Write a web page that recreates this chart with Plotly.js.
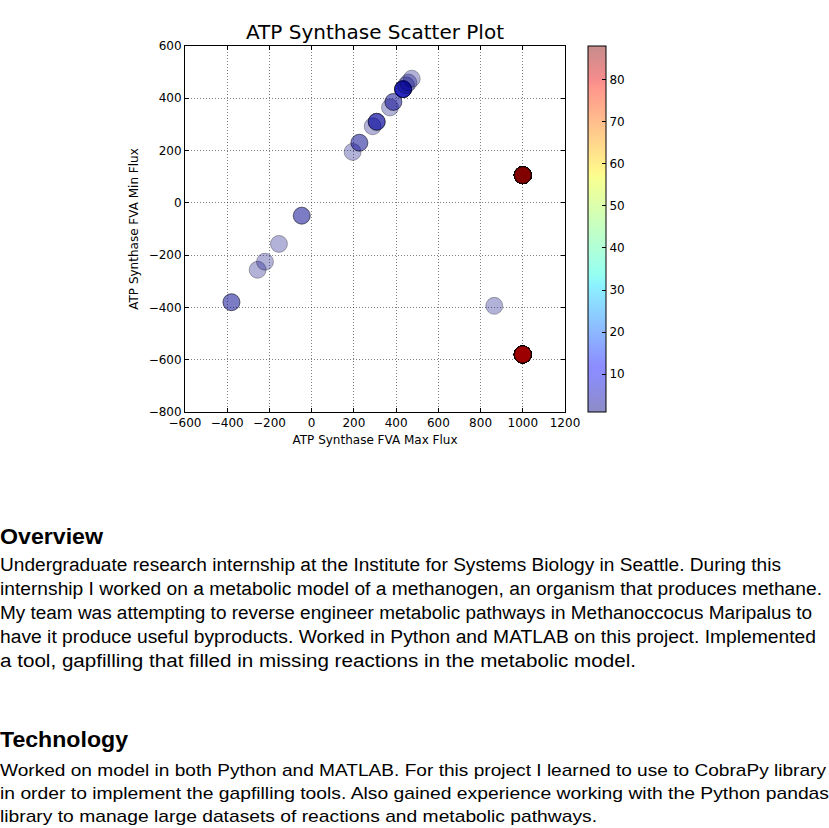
<!DOCTYPE html>
<html>
<head>
<meta charset="utf-8">
<script src="https://cdn.plot.ly/plotly-3.0.1.min.js"></script>
<style>
  html, body { margin: 0; padding: 0; background: #fff; width: 829px; height: 828px; overflow: hidden; }
  #chart { position: absolute; left: 0; top: 0; width: 829px; height: 460px; }
  .sec { position: absolute; left: 0; font-family: "Liberation Sans", Arial, sans-serif; color: #000; }
  .h { font-weight: bold; font-size: 22px; line-height: 28px; height: 28px; white-space: nowrap; }
  .l { font-size: 18px; line-height: 24px; height: 24px; white-space: nowrap; }
  #te-b .l { font-size: 17px; line-height: 23px; height: 23px; }
  .h span, .l span { display: inline-block; transform-origin: 0 0; }
</style>
</head>
<body>
<div id="chart"></div>

<div class="sec" id="ov-h" style="top:523px"><div class="h"><span data-w="103">Overview</span></div></div>
<div class="sec" id="ov-b" style="top:553px">
  <div class="l"><span data-w="781">Undergraduate research internship at the Institute for Systems Biology in Seattle. During this</span></div>
  <div class="l"><span data-w="822">internship I worked on a metabolic model of a methanogen, an organism that produces methane.</span></div>
  <div class="l"><span data-w="812">My team was attempting to reverse engineer metabolic pathways in Methanoccocus Maripalus to</span></div>
  <div class="l"><span data-w="816">have it produce useful byproducts. Worked in Python and MATLAB on this project. Implemented</span></div>
  <div class="l"><span data-w="636">a tool, gapfilling that filled in missing reactions in the metabolic model.</span></div>
</div>

<div class="sec" id="te-h" style="top:726px"><div class="h"><span data-w="128">Technology</span></div></div>
<div class="sec" id="te-b" style="top:759px">
  <div class="l"><span data-w="826">Worked on model in both Python and MATLAB. For this project I learned to use to CobraPy library</span></div>
  <div class="l"><span data-w="829">in order to implement the gapfilling tools. Also gained experience working with the Python pandas</span></div>
  <div class="l"><span data-w="597">library to manage large datasets of reactions and metabolic pathways.</span></div>
</div>

<script>
// ---- data ----
const maxFlux = [-380, -256, -221, -155, -47, 194, 226, 289, 308, 371, 387, 433, 447, 458, 474, 865, 1000, 1000];
const minFlux = [-380, -256, -225, -157, -49, 195, 230, 293, 310, 365, 386, 435, 450, 460, 475, -394, 106, -580];
const counts  = [2, 1, 1, 1, 2, 1, 2, 1, 3, 1, 2, 5, 1, 1, 1, 1, 88, 86];

const xTicks = [-600, -400, -200, 0, 200, 400, 600, 800, 1000, 1200];
const yTicks = [-800, -600, -400, -200, 0, 200, 400, 600];
const cTicks = [10, 20, 30, 40, 50, 60, 70, 80];

const titleText = "ATP Synthase Scatter Plot";
const xTitle = "ATP Synthase FVA Max Flux";
const yTitle = "ATP Synthase FVA Min Flux";

// expand: each reaction point drawn once per occurrence (stacked, semi-transparent)
const xs = [], ys = [], cs = [];
for (let i = 0; i < maxFlux.length; i++) {
  for (let k = 0; k < counts[i]; k++) { xs.push(maxFlux[i]); ys.push(minFlux[i]); cs.push(counts[i]); }
}

// matplotlib "jet" colormap
function jetChan(pts, t) {
  for (let i = 1; i < pts.length; i++) {
    if (t <= pts[i][0]) {
      const a = pts[i - 1], b = pts[i];
      return a[1] + (b[1] - a[1]) * (t - a[0]) / (b[0] - a[0]);
    }
  }
  return pts[pts.length - 1][1];
}
const R = [[0, 0], [0.35, 0], [0.66, 1], [0.89, 1], [1, 0.5]];
const G = [[0, 0], [0.125, 0], [0.375, 1], [0.64, 1], [0.91, 0], [1, 0]];
const B = [[0, 0.5], [0.11, 1], [0.34, 1], [0.65, 0], [1, 0]];
const stops = [0, 0.11, 0.125, 0.2, 0.34, 0.35, 0.375, 0.5, 0.64, 0.65, 0.66, 0.8, 0.89, 0.91, 1];
function jetScale(alpha) {
  return stops.map(t => {
    const r = Math.round(255 * jetChan(R, t)), g = Math.round(255 * jetChan(G, t)), b = Math.round(255 * jetChan(B, t));
    return [t, `rgba(${r},${g},${b},${alpha})`];
  });
}
const cmin = 1, cmax = 88;

const pts = {
  type: 'scatter', mode: 'markers', x: xs, y: ys, showlegend: false, hoverinfo: 'x+y',
  marker: {
    size: 17, color: cs, cmin: cmin, cmax: cmax, colorscale: jetScale(0.3), showscale: false,
    line: { color: 'rgba(0,0,0,0.3)', width: 1 }
  }
};
const bar = {
  type: 'scatter', mode: 'markers', x: xs, y: ys, showlegend: false, hoverinfo: 'skip',
  marker: {
    size: 17, color: cs, cmin: cmin, cmax: cmax, colorscale: jetScale(0.45), opacity: 0, showscale: true,
    colorbar: {
      x: (588 - 185) / 380, xanchor: 'left', xpad: 0, ypad: 0,
      y: 0.5, yanchor: 'middle', len: 1, lenmode: 'fraction',
      thickness: 18, thicknessmode: 'pixels',
      outlinewidth: 1, outlinecolor: '#000',
      tickmode: 'array', tickvals: cTicks, ticktext: cTicks.map(String),
      ticks: 'inside', ticklen: 4, tickcolor: '#000', tickwidth: 1,
      tickfont: { family: 'DejaVu Sans', size: 12, color: '#000' }
    }
  }
};

const axisCommon = {
  showline: true, linecolor: '#000', linewidth: 1, mirror: 'ticks',
  ticks: 'inside', ticklen: 4, tickcolor: '#000', tickwidth: 1,
  showgrid: true, gridcolor: 'rgba(0,0,0,0.5)', gridwidth: 1, griddash: '1px,2px',
  zeroline: false, tickfont: { family: 'DejaVu Sans', size: 12, color: '#000' },
  tickmode: 'array', fixedrange: true
};

const layout = {
  width: 829, height: 460,
  margin: { l: 185, r: 264, t: 46, b: 48, pad: 0 },
  paper_bgcolor: '#fff', plot_bgcolor: '#fff',
  title: { text: titleText, font: { family: 'DejaVu Sans', size: 20, color: '#000' },
           x: 0.5, xref: 'paper', xanchor: 'center', y: 1, yref: 'paper', yanchor: 'bottom', pad: { b: 7 } },
  xaxis: Object.assign({}, axisCommon, {
    range: [-600, 1200], tickvals: xTicks, ticktext: xTicks.map(v => v < 0 ? '\u2212' + (-v) : String(v)),
    title: { text: xTitle, font: { family: 'DejaVu Sans', size: 12, color: '#000' }, standoff: 6 }
  }),
  yaxis: Object.assign({}, axisCommon, {
    range: [-800, 600], tickvals: yTicks, ticktext: yTicks.map(v => v < 0 ? '\u2212' + (-v) : String(v)),
    title: { text: yTitle, font: { family: 'DejaVu Sans', size: 12, color: '#000' }, standoff: 7 }
  }),
  hovermode: 'closest'
};

Plotly.newPlot('chart', [pts, bar], layout, { displayModeBar: false, staticPlot: true });

// fit each text line to the width it has in the reference
document.querySelectorAll('span[data-w]').forEach(s => {
  const w = s.getBoundingClientRect().width;
  const target = parseFloat(s.getAttribute('data-w'));
  if (w > 0) s.style.transform = 'scaleX(' + (target / w) + ')';
});
</script>
</body>
</html>
